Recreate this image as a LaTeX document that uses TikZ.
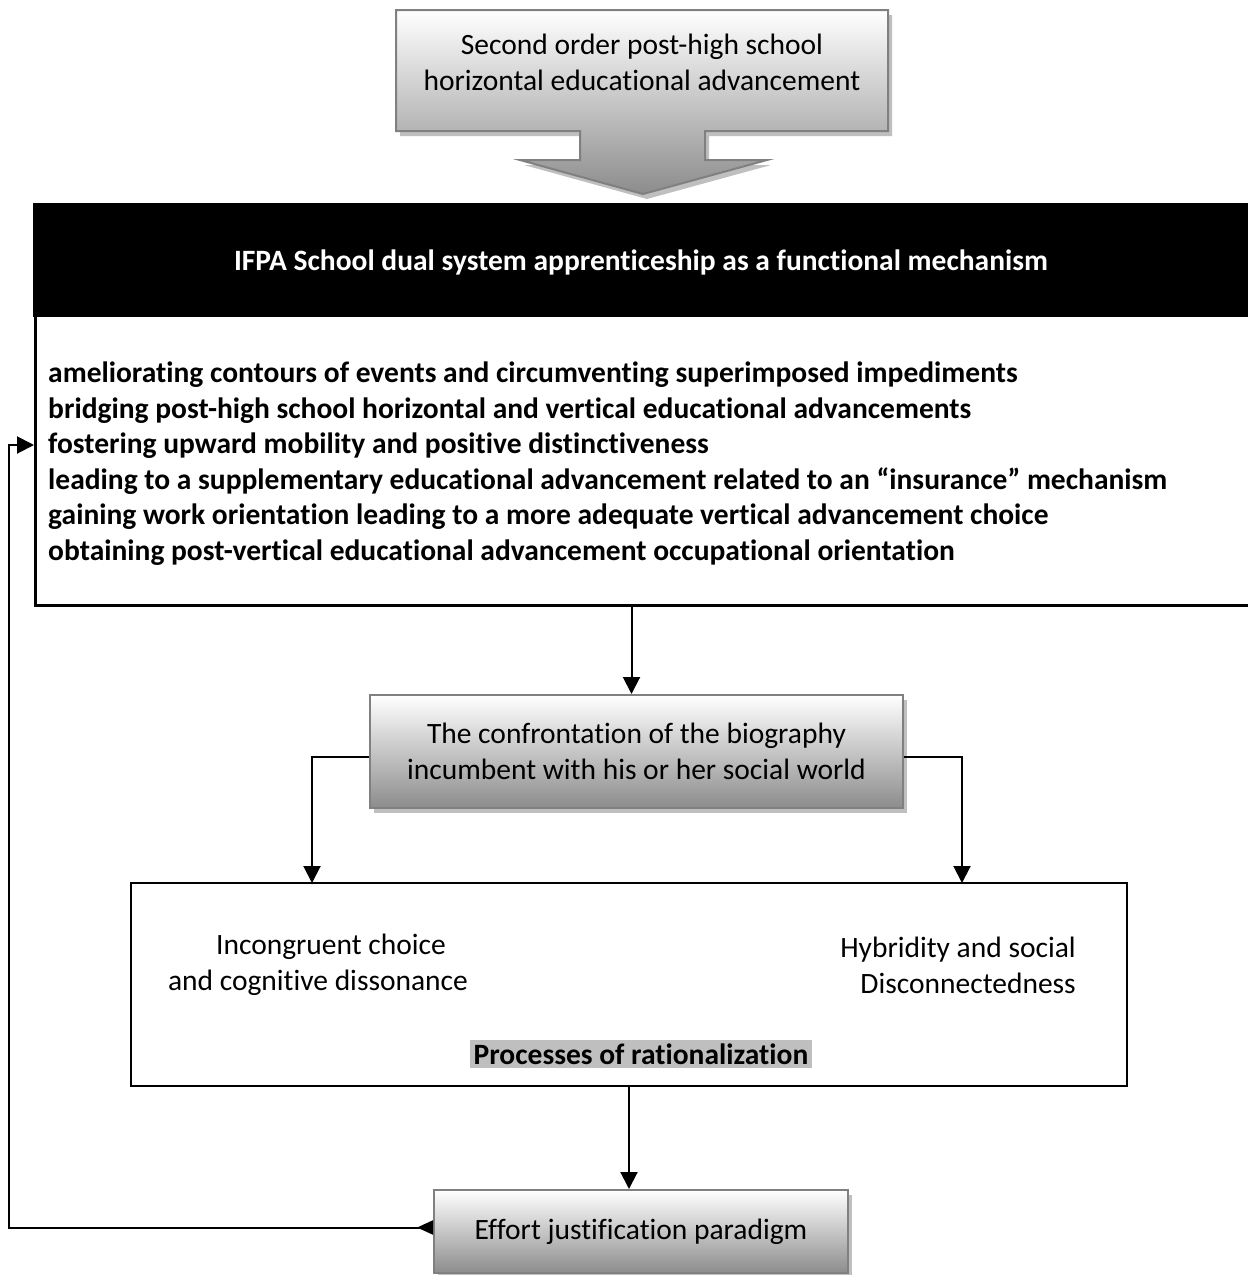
\documentclass[tikz,border=0pt]{standalone}
\usepackage{fontspec}
\setmainfont{Carlito}[RawFeature={-liga}]
\usetikzlibrary{arrows.meta,calc,shadows}

\begin{document}
\begin{tikzpicture}[x=1pt,y=-1pt,
  tip/.tip={Triangle[length=17pt,width=17pt]},
  arr/.style={line width=2pt,-tip},
  gbox/.style={draw=black!50,line width=2pt,top color=white,bottom color=black!45,
    general shadow={fill=black!25,shadow xshift=4pt,shadow yshift=-5pt}},
  boxtxt/.style={font=\fontsize{29.5}{36}\selectfont,align=center},
  bodytxt/.style={font=\fontsize{29.5}{35.5}\selectfont\bfseries,align=left},
]
\path[use as bounding box,clip] (0,0) rectangle (1248,1275);
\fill[white] (0,0) rectangle (1248,1275);

% top block arrow
\path[gbox] (396,10) -- (888,10) -- (888,131) -- (705,131) -- (705,160) -- (767,160)
  -- (643,194) -- (520,160) -- (580,160) -- (580,131) -- (396,131) -- cycle;
\node[boxtxt] (top) at (642,62) {Second order post-high school\\horizontal educational advancement};

% mechanism box with black header
\node[draw,line width=3pt,minimum width=1230pt,minimum height=400pt,anchor=north west,inner sep=0pt]
  (mech) at (34,204) {};
\fill[black] (32.5,202.5) rectangle (1270,317);
\node[font=\fontsize{29.5}{36}\selectfont\bfseries,text=white] (hdr) at (641,262)
  {IFPA School dual system apprenticeship as a functional mechanism};
\node[bodytxt,anchor=west,inner sep=0pt] (items) at (48,463.5) {%
ameliorating contours of events and circumventing superimposed impediments\\
bridging post-high school horizontal and vertical educational advancements\\
fostering upward mobility and positive distinctiveness\\
leading to a supplementary educational advancement related to an “insurance” mechanism\\
gaining work orientation leading to a more adequate vertical advancement choice\\
obtaining post-vertical educational advancement occupational orientation};

% confrontation box
\node[gbox,boxtxt,minimum width=533pt,minimum height=113pt,inner sep=0pt] (conf) at (636.5,751.5)
  {The confrontation of the biography\\incumbent with his or her social world};

% result box
\node[draw,line width=1.5pt,minimum width=996pt,minimum height=203pt,inner sep=0pt] (res) at (629,984.5) {};
\node[boxtxt,anchor=center] (incong) at (318,965)
  {\hspace*{26pt}Incongruent choice\\and cognitive dissonance};
\node[boxtxt,align=right,anchor=east,inner sep=0pt] (hybrid) at (1076,965)
  {Hybridity and social\\Disconnectedness};
\node[fill=black!25,font=\fontsize{29.5}{36}\selectfont\bfseries,inner xsep=4pt,inner ysep=4pt] (proc) at (641,1054)
  {Processes of rationalization};

% effort box
\node[gbox,boxtxt,minimum width=414pt,minimum height=83pt,inner sep=0pt] (effort) at (641,1231.5)
  {Effort justification paradigm};

% connectors
\coordinate (rl) at (312,883);
\coordinate (rr) at (962,883);
\coordinate (fb) at (9,445);
\draw[arr] ([xshift=-5pt]conf.north |- mech.south) -- ([xshift=-5pt]conf.north);
\draw[arr] ([yshift=-5pt]conf.west) -| (rl);
\draw[arr] ([yshift=-5pt]conf.east) -| (rr);
\draw[arr] (res.south) -- (res.south |- effort.north);
\draw[line width=2pt,{Triangle[length=16pt,width=14pt,reversed]}-tip]
  ([yshift=4pt]effort.west) -| (fb) -- (fb -| mech.west);
\end{tikzpicture}
\end{document}
